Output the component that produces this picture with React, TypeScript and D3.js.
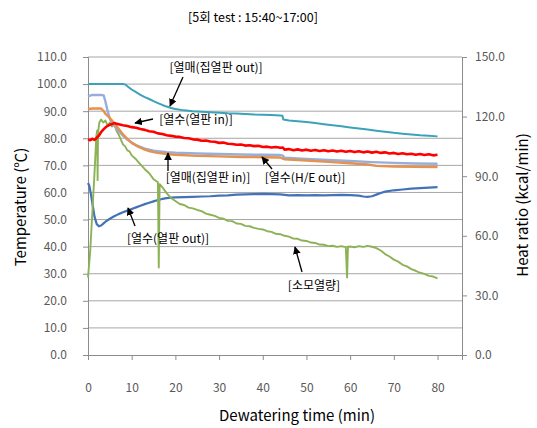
import * as d3 from "d3";
import { useEffect, useRef } from "react";

type Pt = [number, number];

// [minute, °C] — left axis
const mediumOut: Pt[] = [
  [0, 100], [2, 100], [4, 100], [6, 100], [8, 100], [8.6, 99.8], [9, 99.2], [10, 98], [11, 97],
  [12, 96], [13, 95.2], [14, 94.5], [15, 93.7], [16, 93], [17, 92.3], [18, 91.7], [19, 91.2],
  [20, 90.8], [22, 90.3], [24, 90], [26, 89.8], [28, 89.6], [30, 89.4], [32, 89.2], [34, 89.1],
  [36, 89], [38, 88.8], [40, 88.7], [42, 88.6], [44, 88.4], [44.5, 88.3], [44.7, 86.9], [46, 86.6],
  [48, 86.3], [50, 86], [52, 85.6], [54, 85.2], [56, 84.8], [58, 84.4], [60, 84], [62, 83.6],
  [64, 83.2], [66, 82.8], [68, 82.4], [70, 82], [72, 81.7], [74, 81.4], [76, 81.1], [78, 80.9], [80, 80.7]
];

const mediumIn: Pt[] = [
  [0, 95.5], [1, 96], [2, 96], [3, 96], [3.6, 95.8], [4, 93.5], [4.5, 90], [5, 87.2], [5.5, 85.6],
  [6, 84.6], [7, 82.7], [8, 81], [9, 79.5], [10, 78.4], [11, 77.5], [12, 76.8], [13, 76.2],
  [14, 75.8], [15, 75.4], [16, 75.2], [18, 74.9], [20, 74.7], [25, 74.4], [30, 74.2], [35, 74],
  [40, 73.9], [44, 73.8], [44.5, 73.7], [45, 72.8], [50, 72.4], [55, 72], [60, 71.6], [65, 71.2],
  [70, 70.9], [75, 70.7], [80, 70.6]
];

const waterHEOut: Pt[] = [
  [0, 90.8], [1, 91], [2, 91], [3, 91], [3.6, 90], [4, 89], [5, 87.5], [6, 85.5], [7, 83.5],
  [8, 81.5], [9, 79.8], [10, 78.3], [11, 77.3], [12, 76.5], [13, 75.8], [14, 75.3], [15, 74.9],
  [16, 74.6], [18, 74.2], [20, 73.9], [25, 73.5], [30, 73.3], [35, 73.1], [40, 73], [44, 72.9],
  [45, 72.2], [50, 71.8], [55, 71.3], [60, 70.8], [64, 70.3], [66, 69.8], [70, 69.6], [75, 69.5], [80, 69.4]
];

const waterPanelIn: Pt[] = [
  [0, 79.6], [0.5, 79.3], [1, 79.8], [1.5, 79.4], [2, 80.2], [2.5, 81], [3, 82.3], [3.5, 83.2],
  [4, 84], [4.5, 84.6], [5, 85], [5.5, 85.3], [6, 85.6], [6.5, 85.4], [7, 85.2], [8, 84.8],
  [9, 84.5], [10, 84.1], [11, 83.9], [12, 83.4], [13, 83.1], [14, 82.6], [15, 82.4], [16, 81.8],
  [17, 81.6], [18, 81.1], [19, 80.9], [20, 80.6], [21, 80.5], [22, 80.1], [23, 80], [24, 79.6],
  [25, 79.5], [26, 79.1], [27, 79.2], [28, 78.8], [29, 78.7], [30, 78.3], [31, 78.4], [32, 78],
  [33, 77.9], [34, 77.6], [35, 77.7], [36, 77.3], [37, 77.4], [38, 77.1], [39, 77.2], [40, 76.8],
  [41, 76.9], [42, 76.6], [43, 76.8], [44, 76.5], [44.6, 76.6], [45, 75.8], [46, 76], [47, 75.6],
  [48, 75.9], [49, 75.5], [50, 75.8], [51, 75.4], [52, 75.7], [53, 75.3], [54, 75.6], [55, 75.2],
  [56, 75.5], [57, 75.1], [58, 75.4], [59, 75], [60, 75.3], [61, 74.9], [62, 75.2], [63, 74.8],
  [64, 75.1], [65, 74.7], [66, 75], [67, 74.6], [68, 74.8], [69, 74.4], [70, 74.6], [71, 74.2],
  [72, 74.5], [73, 74.1], [74, 74.3], [75, 73.9], [76, 74.2], [77, 73.8], [78, 74.1], [79, 73.7], [80, 73.9]
];

const waterPanelOut: Pt[] = [
  [0, 63.5], [0.3, 62.5], [0.6, 60], [1, 56], [1.5, 51], [2, 48.3], [2.5, 47.5], [3, 47.8],
  [3.5, 48.5], [4, 49.2], [5, 50.3], [6, 51.2], [7, 52], [8, 52.7], [9, 53.3], [10, 53.9],
  [11, 54.5], [12, 55.1], [13, 55.7], [14, 56.2], [15, 56.7], [16, 57.2], [17, 57.6], [18, 57.9],
  [19, 58.1], [20, 58.2], [22, 58.3], [24, 58.4], [26, 58.5], [28, 58.6], [30, 58.8], [32, 58.9],
  [34, 59.2], [36, 59.3], [38, 59.4], [40, 59.5], [42, 59.4], [44, 59.3], [46, 58.9], [48, 59],
  [50, 58.9], [52, 59], [54, 58.9], [56, 59], [58, 59.1], [60, 59], [62, 58.8], [63, 58.5],
  [64, 58.4], [65, 58.6], [66, 59.2], [67, 59.8], [68, 60.3], [70, 60.8], [72, 61.1], [74, 61.4],
  [76, 61.6], [78, 61.8], [80, 62]
];

// [minute, kcal/min] — right axis
const heatUsed: Pt[] = [
  [0, 39], [0.5, 52], [1, 72], [1.5, 92], [1.9, 110], [2.1, 113], [2.2, 88], [2.3, 112], [2.6, 117],
  [3, 118.5], [3.5, 117], [4, 118], [4.5, 115.5], [5, 117], [5.5, 115], [6, 116.5], [6.5, 113],
  [7, 111], [7.5, 108.5], [8, 106], [8.5, 105], [9, 103], [9.5, 102.5], [10, 100.5], [11, 98.5],
  [12, 96], [13, 93.5], [14, 91.5], [15, 88.5], [16, 87], [16.2, 44], [16.4, 86], [17, 84.5],
  [18, 81.5], [19, 79], [20, 77.5], [21, 76], [22, 75.5], [23, 74.2], [24, 73.8], [25, 73],
  [26, 72.4], [27, 71.2], [28, 70.6], [29, 70], [30, 69], [31, 68.6], [32, 67.5], [33, 67.4],
  [34, 66.2], [35, 66], [36, 65], [37, 64.8], [38, 64], [39, 63.5], [40, 63.2], [41, 62.3],
  [42, 62], [43, 61], [44, 60.8], [45, 60], [46, 59.6], [47, 58.6], [48, 58.5], [49, 57.6],
  [50, 57.4], [51, 56.6], [52, 56.4], [53, 55.6], [54, 55.5], [55, 54.8], [56, 55], [57, 54.4],
  [58, 54.8], [59, 54.3], [59.3, 39], [59.5, 54.5], [60, 54.6], [61, 54.2], [62, 54.8], [63, 54.4],
  [64, 54.9], [65, 54.5], [66, 53.8], [67, 52.6], [68, 50.8], [69, 49.6], [70, 48], [71, 47],
  [72, 45.4], [73, 44.6], [74, 43.2], [75, 42.4], [76, 41.4], [77, 40.8], [78, 39.8], [79, 39.5], [80, 38.6]
];

const xTicks = [0, 10, 20, 30, 40, 50, 60, 70, 80];
const leftTicks = [0, 10, 20, 30, 40, 50, 60, 70, 80, 90, 100, 110];
const rightTicks = [0, 30, 60, 90, 120, 150];

const title = "[5회 test : 15:40~17:00]";
const xTitle = "Dewatering time (min)";
const yTitle = "Temperature (℃)";
const y2Title = "Heat ratio (kcal/min)";

// label, label position, arrow from -> to
const notes: { text: string, x: number, y: number, from: Pt, to: Pt }[] = [
  { text: "[열매(집열판 out)]", x: 216, y: 68, from: [183, 77], to: [170, 106] },
  { text: "[열수(열판 in)]", x: 196, y: 120, from: [153, 119], to: [135, 123] },
  { text: "[열매(집열판 in)]", x: 208, y: 178, from: [168, 171], to: [168, 153] },
  { text: "[열수(H/E out)]", x: 305, y: 178, from: [272, 169], to: [262, 157] },
  { text: "[열수(열판 out)]", x: 168, y: 239, from: [135, 226], to: [128, 208] },
  { text: "[소모열량]", x: 314, y: 286, from: [302, 272], to: [295, 247] }
];

const font = "'Noto Sans CJK KR', 'Open Sans', sans-serif";

export default function App() {
  const width = 537;
  const height = 428;
  const marginLeft = 88;
  const marginRight = 75;
  const marginTop = 57;
  const marginBottom = 73;

  const axisx: any = useRef();
  const axisy: any = useRef();
  const axisy2: any = useRef();

  const x: any = d3.scaleLinear([0, 85.6], [marginLeft, width - marginRight]);
  const y: any = d3.scaleLinear([0, 110], [height - marginBottom, marginTop]);
  const y2: any = d3.scaleLinear([0, 150], [height - marginBottom, marginTop]);

  const lineL = d3.line<Pt>().x(d => x(d[0])).y(d => y(d[1]));
  const lineR = d3.line<Pt>().x(d => x(d[0])).y(d => y2(d[1]));

  useEffect(() => {
    const style = (g: any) => {
      g.select(".domain").attr("stroke", "#8c8c8c");
      g.selectAll(".tick line").attr("stroke", "#8c8c8c");
      g.selectAll(".tick text")
        .attr("fill", "#595959")
        .style("font-family", font)
        .style("font-size", "12px");
    };
    d3.select(axisx.current)
      .call(d3.axisBottom(x).tickValues(xTicks).tickSizeOuter(0).tickSize(5).tickPadding(23).tickFormat(d3.format("d")))
      .call(style);
    d3.select(axisy.current)
      .call(d3.axisLeft(y).tickValues(leftTicks).tickSizeOuter(0).tickSize(5).tickPadding(16).tickFormat(d3.format(".1f")))
      .call(style);
    d3.select(axisy2.current)
      .call(d3.axisRight(y2).tickValues(rightTicks).tickSizeOuter(0).tickSize(5).tickPadding(8).tickFormat(d3.format(".1f")))
      .call(style);
  }, [x, y, y2]);

  return (
    <svg width={width} height={height} style={{ position: "absolute", left: 0, top: 0, background: "#fff" }}
      fontFamily={font}>
      <defs>
        <marker id="arr" viewBox="0 0 10 10" refX="9" refY="5" markerWidth="6" markerHeight="6"
          orient="auto-start-reverse">
          <path d="M0,0 L10,5 L0,10 z" fill="#000" />
        </marker>
      </defs>
      <text x={253} y={22} textAnchor="middle" fontSize="12.5" fill="#000">{title}</text>

      <g stroke="#a6a6a6" strokeWidth="1">
        {leftTicks.filter(t => t > 0).map(t => (
          <line key={t} x1={marginLeft} x2={width - marginRight} y1={y(t)} y2={y(t)} />
        ))}
      </g>

      <g ref={axisx} transform={`translate(0, ${height - marginBottom})`} />
      <g ref={axisy} transform={`translate(${marginLeft}, 0)`} />
      <g ref={axisy2} transform={`translate(${width - marginRight}, 0)`} />

      <g fill="none" strokeLinejoin="round">
        <path stroke="#4472b8" strokeWidth="2.2" d={lineL(waterPanelOut) as string} />
        <path stroke="#8db255" strokeWidth="1.9" d={lineR(heatUsed) as string} />
        <path stroke="#97aedb" strokeWidth="2.4" d={lineL(mediumIn) as string} />
        <path stroke="#e3924f" strokeWidth="2.4" d={lineL(waterHEOut) as string} />
        <path stroke="#3ba2b8" strokeWidth="2" d={lineL(mediumOut) as string} />
        <path stroke="#ff0000" strokeWidth="2.6" d={lineL(waterPanelIn) as string} />
      </g>

      {notes.map((n, i) => (
        <g key={i}>
          <line x1={n.from[0]} y1={n.from[1]} x2={n.to[0]} y2={n.to[1]} stroke="#000" strokeWidth="1.3"
            markerEnd="url(#arr)" />
          <text x={n.x} y={n.y} dy="0.35em" textAnchor="middle" fontSize="12" fill="#000">{n.text}</text>
        </g>
      ))}

      <text x={297} y={416} dy="0.35em" textAnchor="middle" fontSize="15" fill="#000">{xTitle}</text>
      <text transform={`translate(21, 207) rotate(-90)`} dy="0.35em" textAnchor="middle" fontSize="15"
        fill="#000">{yTitle}</text>
      <text transform={`translate(523, 205) rotate(-90)`} dy="0.35em" textAnchor="middle" fontSize="15"
        fill="#000">{y2Title}</text>
    </svg>
  );
}
